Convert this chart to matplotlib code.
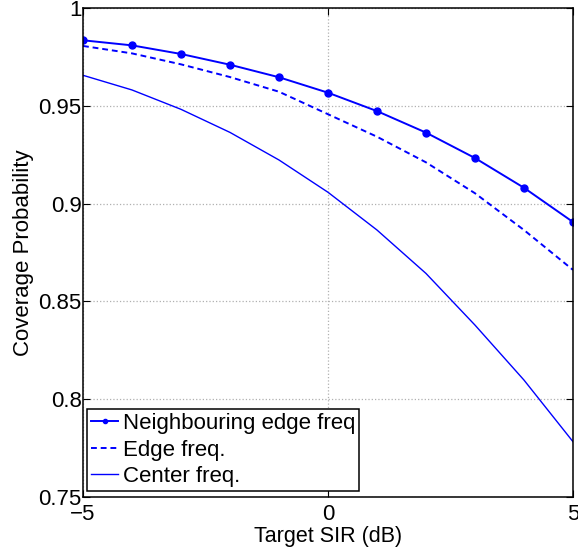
import numpy as np
import matplotlib.pyplot as plt

plt.rcParams['font.family'] = ['Liberation Sans', 'DejaVu Sans']

# Target SIR values (dB)
sir_db = [-5, -4, -3, -2, -1, 0, 1, 2, 3, 4, 5]

# coverage probability
neigh_edge = [0.9835, 0.9809, 0.9765, 0.9710, 0.9646, 0.9567,
              0.9473, 0.9363, 0.9233, 0.9081, 0.8906]
edge = [0.9806, 0.9768, 0.9712, 0.9647, 0.9572, 0.9457,
        0.9342, 0.9211, 0.9053, 0.8865, 0.8661]
center = [0.9656, 0.9581, 0.9482, 0.9364, 0.9223, 0.9058,
          0.8865, 0.8643, 0.8379, 0.8098, 0.7783]

fig = plt.figure(figsize=(5.78, 5.52), dpi=100)
ax = fig.add_axes([0.1436, 0.0996, 0.8477, 0.8859])

ax.plot(sir_db, neigh_edge, '-', color='blue', lw=1.4, marker='o', markersize=5,
        label='Neighbouring edge freq')
ax.plot(sir_db, edge, '--', color='blue', lw=1.4, dashes=(3, 2), label='Edge freq.')
ax.plot(sir_db, center, '-', color='blue', lw=1.0, label='Center freq.')

ax.set_xlim(-5, 5)
ax.set_ylim(0.75, 1)
ax.set_xticks([-5, 0, 5])
ax.set_yticks([0.75, 0.8, 0.85, 0.9, 0.95, 1])
ax.set_yticklabels(['0.75', '0.8', '0.85', '0.9', '0.95', '1'])
ax.tick_params(direction='in', top=True, right=True, labelsize=16, length=5)
ax.tick_params(axis='y', pad=1)
ax.tick_params(axis='x', pad=5)
ax.grid(True, linestyle=':', color='#b0b0b0', linewidth=0.9)
for s in ax.spines.values():
    s.set_linewidth(1.1)

ax.set_xlabel('Target SIR (dB)', fontsize=15.5, labelpad=1)
ax.set_ylabel('Coverage Probability', fontsize=16, labelpad=3)

leg = ax.legend(loc='lower left', bbox_to_anchor=(0.009, 0.012), borderaxespad=0,
                fontsize=16, fancybox=False, framealpha=1, edgecolor='black',
                handlelength=1.2, handletextpad=0.2, labelspacing=0.25,
                borderpad=0.18)
leg.get_frame().set_linewidth(1.1)
leg.legend_handles[0].set_markersize(3)

fig.savefig('out.png', dpi=100)
